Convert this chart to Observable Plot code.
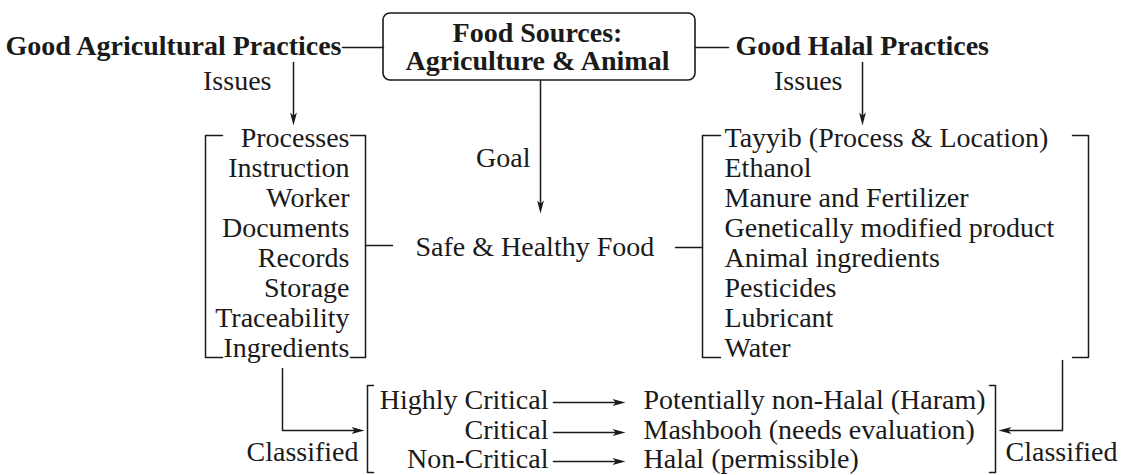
<!DOCTYPE html>
<html><head><meta charset="utf-8">
<script src="https://cdn.jsdelivr.net/npm/d3@7"></script>
<script src="https://cdn.jsdelivr.net/npm/@observablehq/plot@0.6"></script>
<style>body{margin:0;background:#fff} svg{display:block}</style>
</head><body><div id="chart"></div>
<script>
// ---- content ----
const sourceLines = ["Food Sources:", "Agriculture & Animal"];
const practices = ["Good Agricultural Practices", "Good Halal Practices"];
const gapIssues = ["Processes","Instruction","Worker","Documents","Records","Storage","Traceability","Ingredients"];
const halalIssues = ["Tayyib (Process & Location)","Ethanol","Manure and Fertilizer","Genetically modified product","Animal ingredients","Pesticides","Lubricant","Water"];
const criticality = ["Highly Critical","Critical","Non-Critical"];
const halalStatus = ["Potentially non-Halal (Haram)","Mashbooh (needs evaluation)","Halal (permissible)"];
const goalLabel = "Safe & Healthy Food";
const issuesLabel = "Issues";
const goalEdge = "Goal";
const classifiedLabel = "Classified";

// ---- layout (pixel space) ----
const rowY = i => 138 + 30 * i;
const critY = [400, 430, 459];
const ink = "#1a1a1a";
const serif = "'Liberation Serif', 'Times New Roman', Times, serif";

const boldTexts = [
  {t: practices[0], x: 341, y: 46, a: "end"},
  {t: practices[1], x: 735, y: 46, a: "start"},
  {t: sourceLines[0], x: 537, y: 33, a: "middle"},
  {t: sourceLines[1], x: 537, y: 61, a: "middle"}
];
const plainTexts = [
  {t: issuesLabel, x: 271, y: 81, a: "end"},
  {t: issuesLabel, x: 842, y: 81, a: "end"},
  {t: goalEdge, x: 530, y: 158, a: "end"},
  {t: goalLabel, x: 415, y: 247, a: "start"},
  {t: classifiedLabel, x: 358, y: 452, a: "end"},
  {t: classifiedLabel, x: 1005, y: 452, a: "start"},
  ...gapIssues.map((t, i) => ({t, x: 349, y: rowY(i), a: "end"})),
  ...halalIssues.map((t, i) => ({t, x: 724, y: rowY(i), a: "start"})),
  ...criticality.map((t, i) => ({t, x: 548, y: critY[i], a: "end"})),
  ...halalStatus.map((t, i) => ({t, x: 643, y: critY[i], a: "start"}))
];

const bracket = (id, x, top, bottom, tick) => [[x + tick, top], [x, top], [x, bottom], [x + tick, bottom]].map(([px, py]) => ({id, x: px, y: py}));
const path = (id, pts) => pts.map(([px, py]) => ({id, x: px, y: py}));

const paths = [
  ...path("l1", [[342, 47], [383, 47]]),
  ...path("l2", [[695, 47], [728, 47]]),
  ...path("iss1", [[293, 62], [293, 116]]),
  ...path("iss2", [[862, 62], [862, 116]]),
  ...path("goal", [[540, 80], [540, 204]]),
  ...path("gapSafe", [[365, 245], [392, 245]]),
  ...path("safeHalal", [[675, 247], [702, 247]]),
  ...path("clsL", [[282, 368], [282, 430], [354, 430]]),
  ...path("clsR", [[1062, 360], [1062, 430], [1008, 430]]),
  ...criticality.map((_, i) => path("c" + i, [[553, critY[i] + 2], [615, critY[i] + 2]])).flat(),
  ...bracket("b1", 205, 135, 357, 17),
  ...bracket("b2", 365, 135, 357, -15),
  ...bracket("b3", 702, 135, 357, 18),
  ...bracket("b4", 1088, 135, 357, -16),
  ...bracket("b5", 367, 385, 472, 6),
  ...bracket("b6", 995, 385, 472, -6)
];

const heads = [
  {x: 293, y: 125, r: 90},
  {x: 862, y: 125, r: 90},
  {x: 540, y: 213, r: 90},
  {x: 364, y: 430, r: 0},
  {x: 998, y: 430, r: 180},
  ...critY.map(y => ({x: 625, y: y + 2, r: 0}))
];

const arrowHead = {
  draw(ctx) {
    const l = 13, w = 3.4;
    ctx.moveTo(0, 0);
    ctx.lineTo(-l, -w);
    ctx.lineTo(-l * 0.75, 0);
    ctx.lineTo(-l, w);
    ctx.closePath();
  }
};

const textMarks = (data, weight) => ["start", "middle", "end"].map(a =>
  Plot.text(data.filter(d => d.a === a), {x: "x", y: "y", text: "t", textAnchor: a, fontFamily: serif, fontWeight: weight, fontSize: 28, fill: ink})
);

const chart = Plot.plot({
  width: 1122,
  height: 475,
  margin: 0,
  style: {background: "#fff", color: ink, fontFamily: serif},
  x: {domain: [0, 1122], axis: null},
  y: {domain: [475, 0], axis: null},
  marks: [
    Plot.rect([{x1: 383, x2: 695, y1: 13, y2: 80}], {x1: "x1", x2: "x2", y1: "y1", y2: "y2", rx: 7, fill: "#fff", stroke: ink, strokeWidth: 1.6}),
    Plot.line(paths, {x: "x", y: "y", z: "id", stroke: ink, strokeWidth: 1.5}),
    Plot.dot(heads, {x: "x", y: "y", rotate: "r", symbol: arrowHead, fill: ink, stroke: "none"}),
    ...textMarks(boldTexts, "bold"),
    ...textMarks(plainTexts, "normal")
  ]
});
document.getElementById("chart").appendChild(chart);
</script>
</body></html>
